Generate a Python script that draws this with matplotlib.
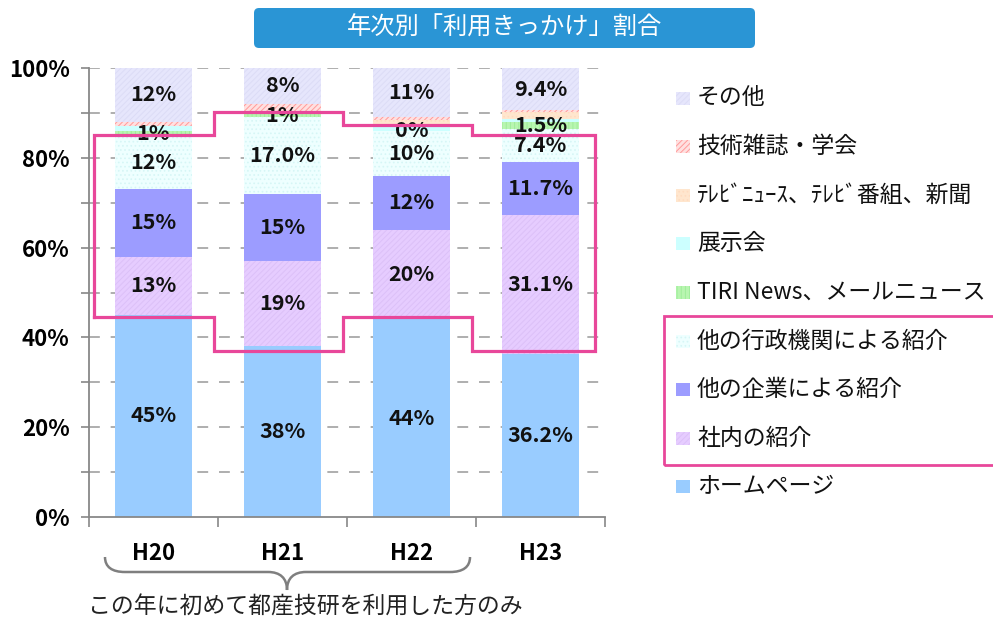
import matplotlib
matplotlib.use("Agg")
import matplotlib.pyplot as plt
from matplotlib.patches import Rectangle, FancyBboxPatch, PathPatch
from matplotlib.path import Path
from matplotlib.transforms import IdentityTransform
import numpy as np

plt.rcParams['font.family'] = ['Noto Sans CJK JP', 'DejaVu Sans']
plt.rcParams['hatch.linewidth'] = 0.7

# ---------------- data ----------------
years = ["H20", "H21", "H22", "H23"]

homepage   = [45, 38, 44, 36.2]     # ホームページ
inhouse    = [13, 19, 20, 31.1]     # 社内の紹介
company    = [15, 15, 12, 11.7]     # 他の企業による紹介
gov        = [12, 17.0, 10, 7.4]    # 他の行政機関による紹介
tiri       = [1, 1, 0, 1.5]         # TIRI News、メールニュース
exhibit    = [1, 0.5, 1.5, 0.8]     # 展示会
tv         = [0, 0, 1, 1.4]         # テレビ・新聞
journal    = [1, 1.5, 0.5, 0.5]     # 技術雑誌・学会
other      = [12, 8, 11, 9.4]       # その他

homepage_lbl = ["45%", "38%", "44%", "36.2%"]
inhouse_lbl  = ["13%", "19%", "20%", "31.1%"]
company_lbl  = ["15%", "15%", "12%", "11.7%"]
gov_lbl      = ["12%", "17.0%", "10%", "7.4%"]
tiri_lbl     = ["1%", "1%", "0%", "1.5%"]
other_lbl    = ["12%", "8%", "11%", "9.4%"]

series_names = ["ホームページ", "社内の紹介", "他の企業による紹介", "他の行政機関による紹介",
                "TIRI News、メールニュース", "展示会", "ﾃﾚﾋﾞﾆｭｰｽ、ﾃﾚﾋﾞ番組、新聞",
                "技術雑誌・学会", "その他"]

# highlight outline (% values)
highlight_top    = [85, 90.3, 87.3, 85.1]
highlight_bottom = [44.5, 37, 44.5, 37]

title = "年次別「利用きっかけ」割合"
note = "この年に初めて都産技研を利用した方のみ"

# ---------------- styles ----------------
series = [homepage, inhouse, company, gov, tiri, exhibit, tv, journal, other]
labels = [homepage_lbl, inhouse_lbl, company_lbl, gov_lbl, tiri_lbl, None, None, None, other_lbl]
faces  = ["#99CCFF", "#E6CCFF", "#9C9CFF", "#EEFFFF", "#B8F5B0", "#CCFFFF", "#FFE6CE", "#FFE0E0", "#E6E6FC"]
hcols  = ["#99CCFF", "#DCC0F8", "#9C9CFF", "#D6F6F6", "#9FEE9A", "#CCFFFF", "#FFDCC0", "#FF9A9A", "#DCDCF6"]
hatch  = [None, "//////", None, "....", "||||", None, "....", "//////", "//////"]

W, H = 993, 619
fig = plt.figure(figsize=(W / 100, H / 100), dpi=100)
ax = fig.add_axes([89 / W, 1 - 517 / H, (605 - 89) / W, (517 - 68) / H])

x = np.arange(len(years))
bottom = np.zeros(len(years))
for vals, lbls, fc, hc, ht in zip(series, labels, faces, hcols, hatch):
    v = np.array(vals, dtype=float)
    ax.bar(x, v, 0.6, bottom=bottom, color=fc, edgecolor=hc, linewidth=0, hatch=ht, zorder=2)
    if lbls is not None:
        for xi, b, vi, t in zip(x, bottom, v, lbls):
            ax.text(xi, b + vi / 2, t, ha="center", va="center", fontsize=15.5,
                    fontweight="bold", color="#111111", zorder=5)
    bottom += v

ax.set_xlim(-0.5, 3.5)
ax.set_ylim(0, 100)

# grid
yt = np.arange(0, 101, 10)
ax.set_yticks(yt)
ax.set_yticklabels([f"{v}%" if v % 20 == 0 else "" for v in yt], fontsize=16, fontweight="bold")
for v in yt[1:]:
    ax.axhline(v, color="#A8A8A8", lw=1.3, ls=(0, (6, 6)), zorder=1)
ax.tick_params(axis="y", length=6, color="#888888", width=1.2, pad=8)

ax.set_xticks(x)
ax.set_xticklabels(years, fontsize=16, fontweight="bold")
ax.set_xticks(np.arange(-0.5, 3.6, 1), minor=True)
ax.tick_params(axis="x", which="major", length=0, pad=18)
ax.tick_params(axis="x", which="minor", length=7, color="#888888", width=1.2)

for s in ["top", "right"]:
    ax.spines[s].set_visible(False)
for s in ["left", "bottom"]:
    ax.spines[s].set_color("#888888")
    ax.spines[s].set_linewidth(1.3)

# highlight outline
pink = "#E8479A"
xl, xr = -0.46, 3.42
steps = [i + 0.47 for i in range(len(years) - 1)]
px_, py_ = [xl], [highlight_bottom[0]]
px_.append(xl); py_.append(highlight_top[0])
for i, s in enumerate(steps):
    px_ += [s, s]; py_ += [highlight_top[i], highlight_top[i + 1]]
px_.append(xr); py_.append(highlight_top[-1])
px_.append(xr); py_.append(highlight_bottom[-1])
for i in range(len(steps) - 1, -1, -1):
    s = steps[i]
    px_ += [s, s]; py_ += [highlight_bottom[i + 1], highlight_bottom[i]]
px_.append(xl); py_.append(highlight_bottom[0])
ax.plot(px_, py_, color=pink, lw=2.3, zorder=6, clip_on=False, solid_joinstyle="miter")

# ---------------- figure-level decorations (pixel coords, top-left origin) ----------------
T = IdentityTransform()
def P(xp, yp):
    return (xp, H - yp)

# title box
tb = FancyBboxPatch(P(254, 48), 755 - 254, 40, boxstyle="round,pad=0,rounding_size=5",
                    facecolor="#2A95D5", edgecolor="none", transform=T)
fig.add_artist(tb)
fig.text(504.5 / W, 1 - 28 / H, title, ha="center", va="center", color="white", fontsize=17.5)

# legend
leg_y0, leg_dy = 98, 48.6
for k, (name, fc, hc, ht) in enumerate(zip(series_names[::-1], faces[::-1], hcols[::-1], hatch[::-1])):
    yc = leg_y0 + k * leg_dy
    r = Rectangle(P(676, yc + 6.5), 14, 13, facecolor=fc, edgecolor=hc, linewidth=0,
                  hatch=ht, transform=T)
    fig.add_artist(r)
    fig.text(697 / W, 1 - yc / H, name, ha="left", va="center", fontsize=16.5, color="#111111")

lb = Rectangle(P(664, 465), 340, 149, facecolor="none", edgecolor=pink, linewidth=2.0, transform=T)
fig.add_artist(lb)

# brace
verts = [P(105, 557), P(105, 567), P(112, 572), P(125, 572),
         P(268, 572),
         P(280, 572), P(287, 578), P(287, 590),
         P(287, 578), P(294, 572), P(306, 572),
         P(450, 572),
         P(463, 572), P(470, 567), P(470, 557)]
codes = [Path.MOVETO, Path.CURVE4, Path.CURVE4, Path.CURVE4,
         Path.LINETO,
         Path.CURVE4, Path.CURVE4, Path.CURVE4,
         Path.CURVE4, Path.CURVE4, Path.CURVE4,
         Path.LINETO,
         Path.CURVE4, Path.CURVE4, Path.CURVE4]
fig.add_artist(PathPatch(Path(verts, codes), facecolor="none", edgecolor="#7F7F7F", lw=1.8, transform=T))
fig.text(88 / W, 1 - 607 / H, note, ha="left", va="center", fontsize=16.5, color="#222222")

fig.savefig("out.png", dpi=100)
